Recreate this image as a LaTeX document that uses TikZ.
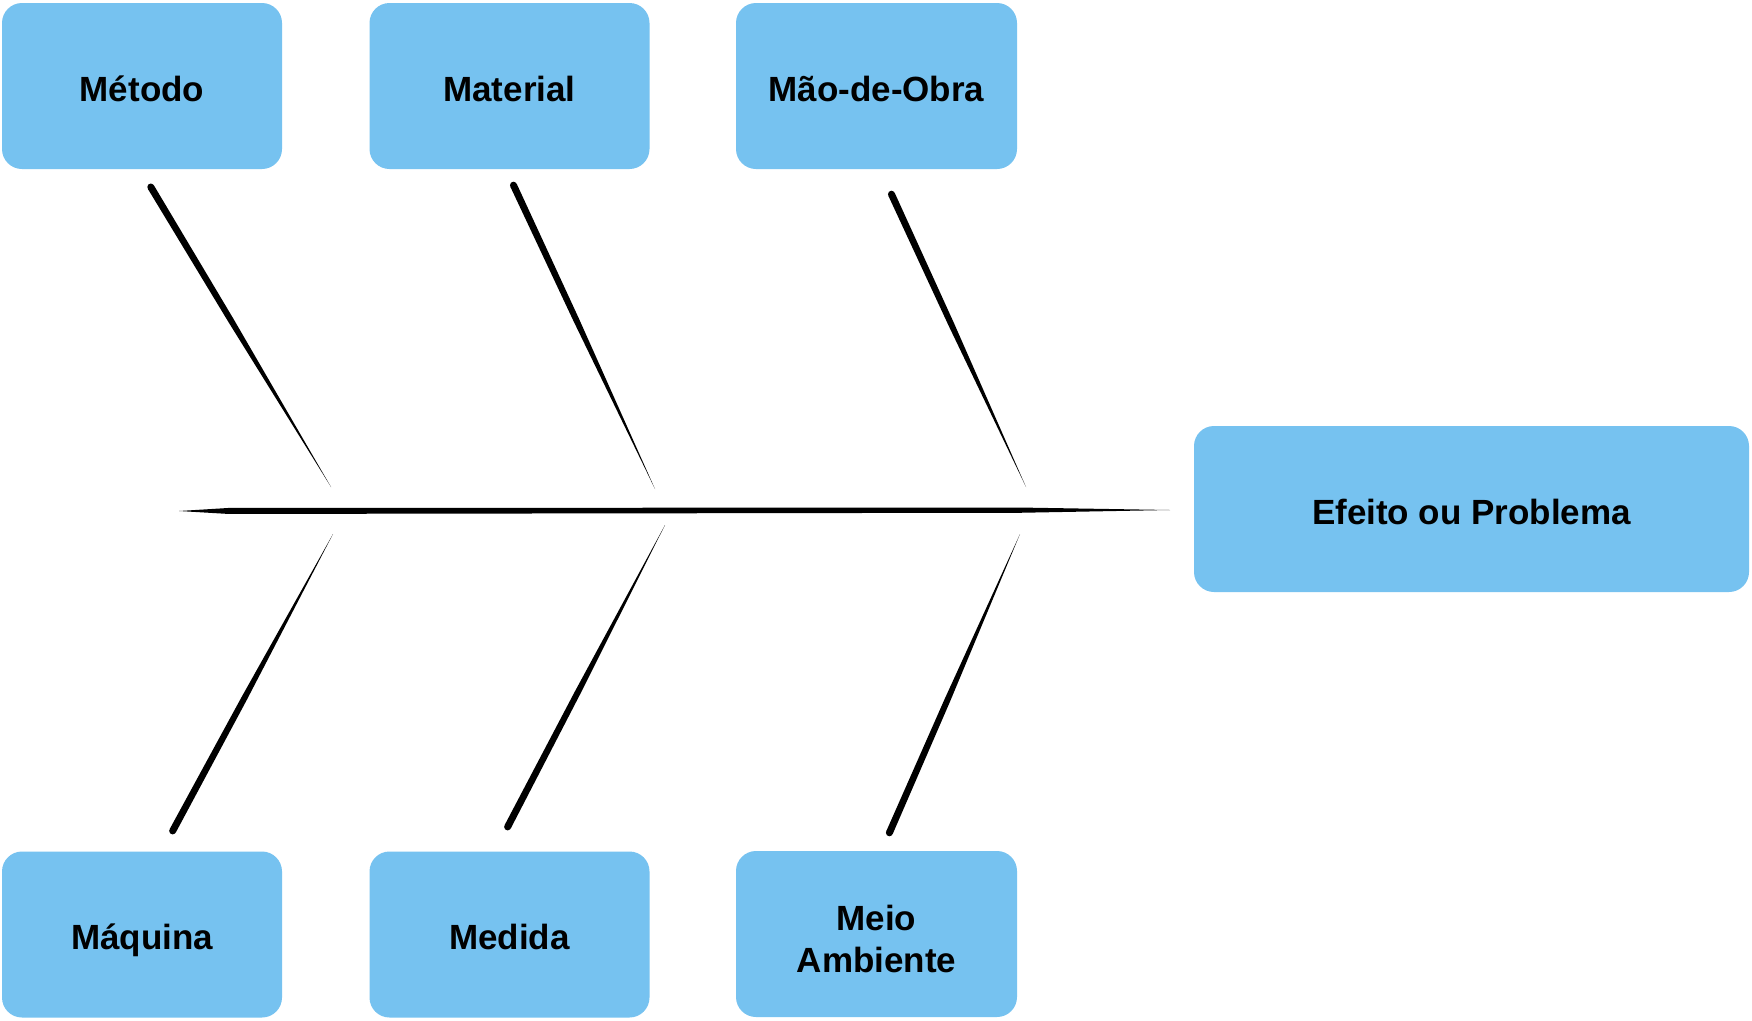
\documentclass[tikz,border=0pt]{standalone}
\usepackage{fontspec}
\setmainfont{Liberation Sans}
\usetikzlibrary{calc}
\definecolor{boxblue}{RGB}{118,194,240}
\tikzset{
  catbox/.style={fill=boxblue, rounded corners=20pt, minimum width=#1, minimum height=166pt,
    inner sep=0pt, align=center, font=\fontsize{35}{40}\selectfont\bfseries},
  catbox/.default=280pt,
  oneline/.style={text height=30pt, text depth=0pt}
}
% tapered brush stroke: thick rounded end at #1, pointed at #2, half-width #3
\newcommand\brushline[3]{%
  \fill[black] ($(#1)!#3!(#2)$) circle[radius=#3];
  \fill[black] ($(#1)!#3!(#2)!#3!90:(#2)$)
    -- ($(#1)!0.45!(#2)!0.85*#3!90:(#2)$)
    -- (#2)
    -- ($(#1)!0.45!(#2)!0.85*#3!-90:(#2)$)
    -- ($(#1)!#3!(#2)!#3!-90:(#2)$) -- cycle;}
\begin{document}
\begin{tikzpicture}[x=1pt,y=-1pt]
\useasboundingbox (0,0) rectangle (1752,1020);
\fill[white] (0,0) rectangle (1752,1020);
% boxes
\node[catbox, oneline] (metodo) at (142,86) {Método};
\node[catbox, oneline] (material) at (509.5,86) {Material};
\node[catbox=281pt, oneline] (mao) at (876.5,86) {Mão-de-Obra};
\node[catbox=555pt, oneline] (efeito) at (1471.5,509) {Efeito ou Problema};
\node[catbox, oneline] (maquina) at (142,934.5) {Máquina};
\node[catbox, oneline] (medida) at (509.5,934.5) {Medida};
\node[catbox=281pt] (meio) at (876.5,934) {};
\node[font=\fontsize{35}{42}\selectfont\bfseries, align=center, inner sep=0pt] (meiotext) at ([yshift=-5pt]meio.center) {Meio\\Ambiente};
% spine
\coordinate (s1) at (179,511);
\coordinate (s2) at (1170,510);
\fill[black] (s1) -- ($(s1)!0.05!(s2)!3pt!90:(s2)$) -- ($(s1)!0.85!(s2)!2.6pt!90:(s2)$) -- (s2)
   -- ($(s1)!0.85!(s2)!2.6pt!-90:(s2)$) -- ($(s1)!0.05!(s2)!3pt!-90:(s2)$) -- cycle;
% bones
\coordinate (b1a) at (149,184);  \coordinate (b1b) at (331,487);
\coordinate (b2a) at (512,182);  \coordinate (b2b) at (655,489);
\coordinate (b3a) at (890,191);  \coordinate (b3b) at (1026,487);
\coordinate (b4a) at (171,834);  \coordinate (b4b) at (333,534);
\coordinate (b5a) at (506,830);  \coordinate (b5b) at (665,525);
\coordinate (b6a) at (888,836);  \coordinate (b6b) at (1020,534);
\brushline{b1a}{b1b}{3.5pt}
\brushline{b2a}{b2b}{3.5pt}
\brushline{b3a}{b3b}{3.5pt}
\brushline{b4a}{b4b}{3.5pt}
\brushline{b5a}{b5b}{3.5pt}
\brushline{b6a}{b6b}{3.5pt}
\end{tikzpicture}
\end{document}
